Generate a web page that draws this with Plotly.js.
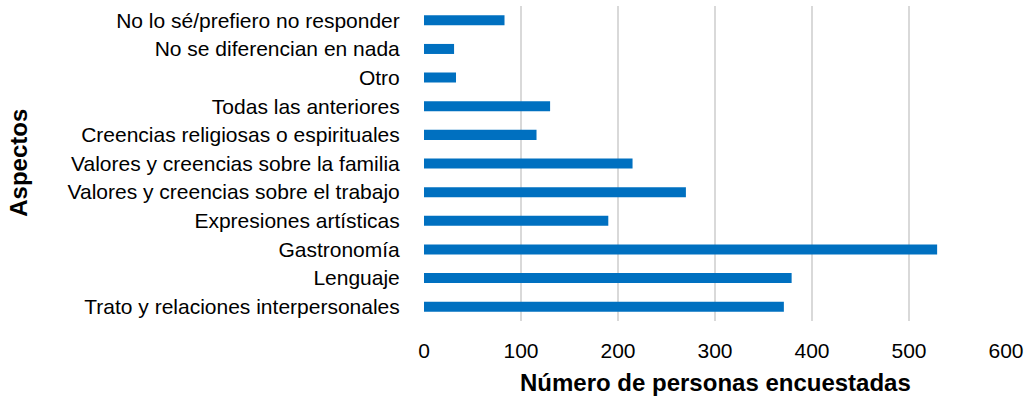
<!DOCTYPE html>
<html>
<head>
<meta charset="utf-8">
<script src="https://cdn.plot.ly/plotly-3.0.1.min.js"></script>
<style>
  html, body { margin: 0; padding: 0; background: #fff; }
  #chart { width: 1030px; height: 401px; }
</style>
</head>
<body>
<div id="chart"></div>
<script>
// categories, bottom to top as drawn
const aspectos = [
  "Trato y relaciones interpersonales",
  "Lenguaje",
  "Gastronomía",
  "Expresiones artísticas",
  "Valores y creencias sobre el trabajo",
  "Valores y creencias sobre la familia",
  "Creencias religiosas o espirituales",
  "Todas las anteriores",
  "Otro",
  "No se diferencian en nada",
  "No lo sé/prefiero no responder"
];
const personas = [371, 379, 529, 190, 270, 215, 116, 130, 33, 31, 83];
const xTicks = [0, 100, 200, 300, 400, 500, 600];

const font = "Liberation Sans, Arial, sans-serif";

const trace = {
  type: "bar",
  orientation: "h",
  x: personas,
  y: aspectos,
  marker: { color: "#0070c0" },
  hoverinfo: "x+y"
};

const layout = {
  width: 1030,
  height: 401,
  margin: { l: 424, r: 24, t: 6, b: 80 },
  paper_bgcolor: "#fff",
  plot_bgcolor: "#fff",
  bargap: 0.65,
  showlegend: false,
  font: { family: font, color: "#000" },
  xaxis: {
    range: [0, 600],
    tickvals: xTicks,
    showgrid: true,
    gridcolor: "#d9d9d9",
    gridwidth: 1.5,
    zeroline: false,
    showline: false,
    ticks: "outside",
    ticklen: 11,
    tickcolor: "rgba(0,0,0,0)",
    tickfont: { size: 21, family: font },
    fixedrange: true
  },
  yaxis: {
    type: "category",
    showgrid: false,
    zeroline: false,
    showline: false,
    ticks: "outside",
    ticklen: 19,
    tickcolor: "rgba(0,0,0,0)",
    tickfont: { size: 21, family: font },
    fixedrange: true
  },
  annotations: [
    {
      text: "<b>Número de personas encuestadas</b>",
      xref: "paper", yref: "paper",
      x: 0.5, y: -0.195,
      xanchor: "center", yanchor: "middle",
      showarrow: false,
      font: { size: 24, family: font }
    },
    {
      text: "<b>Aspectos</b>",
      xref: "paper", yref: "paper",
      x: -0.696, y: 0.502,
      xanchor: "center", yanchor: "middle",
      textangle: -90,
      showarrow: false,
      font: { size: 24, family: font }
    }
  ]
};

Plotly.newPlot("chart", [trace], layout, { displayModeBar: false, staticPlot: true });
</script>
</body>
</html>
